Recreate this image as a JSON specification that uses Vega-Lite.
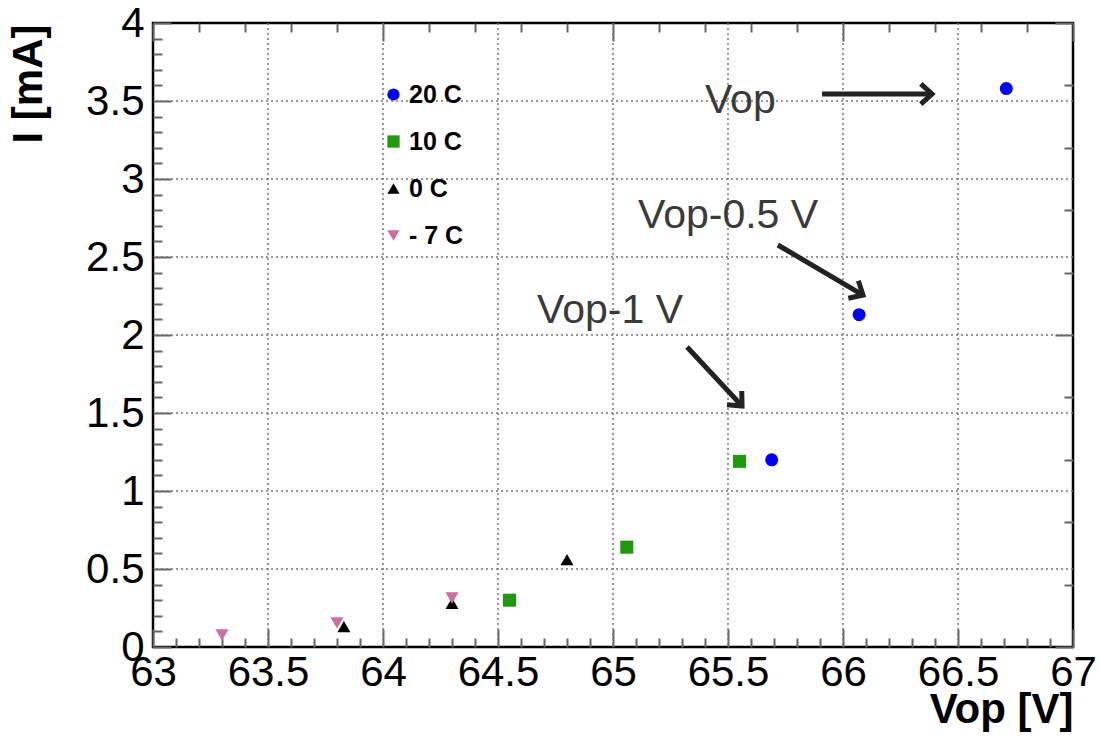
{
  "$schema": "https://vega.github.io/schema/vega-lite/v6.json",
  "width": 920,
  "height": 624,
  "autosize": {"type": "none"},
  "padding": {"left": 153, "top": 23, "right": 26, "bottom": 94},
  "background": "white",
  "config": {
    "view": {"stroke": "black", "strokeWidth": 2.5},
    "font": "Liberation Sans",
    "axis": {"grid": false, "gridColor": "transparent", "gridOpacity": 0},
    "axisX": {"grid": false, "gridColor": "transparent", "gridOpacity": 0},
    "axisY": {"grid": false, "gridColor": "transparent", "gridOpacity": 0},
    "axisQuantitative": {"grid": false, "gridColor": "transparent", "gridOpacity": 0}
  },
  "datasets": {
    "points": [
      {"T": "20 C", "Vop": 65.69, "I": 1.20},
      {"T": "20 C", "Vop": 66.07, "I": 2.13},
      {"T": "20 C", "Vop": 66.71, "I": 3.58},
      {"T": "10 C", "Vop": 64.55, "I": 0.30},
      {"T": "10 C", "Vop": 65.06, "I": 0.64},
      {"T": "10 C", "Vop": 65.55, "I": 1.19},
      {"T": "0 C", "Vop": 63.83, "I": 0.13},
      {"T": "0 C", "Vop": 64.30, "I": 0.28},
      {"T": "0 C", "Vop": 64.80, "I": 0.56},
      {"T": "- 7 C", "Vop": 63.30, "I": 0.077},
      {"T": "- 7 C", "Vop": 63.80, "I": 0.154},
      {"T": "- 7 C", "Vop": 64.30, "I": 0.314}
    ],
    "gridX": [
      {"gx": 63.5}, {"gx": 64}, {"gx": 64.5}, {"gx": 65}, {"gx": 65.5}, {"gx": 66}, {"gx": 66.5}
    ],
    "gridY": [
      {"gy": 0.5}, {"gy": 1}, {"gy": 1.5}, {"gy": 2}, {"gy": 2.5}, {"gy": 3}, {"gy": 3.5}
    ],
    "arrows": [
      {"id": "a1", "x1": 65.909, "y1": 3.545, "x2": 66.387, "y2": 3.545},
      {"id": "a2", "x1": 65.717, "y1": 2.577, "x2": 66.087, "y2": 2.256},
      {"id": "a3", "x1": 65.322, "y1": 1.923, "x2": 65.561, "y2": 1.545}
    ],
    "labels": [
      {"text": "Vop", "x": 65.40, "y": 3.423},
      {"text": "Vop-0.5 V", "x": 65.109, "y": 2.686},
      {"text": "Vop-1 V", "x": 64.670, "y": 2.077}
    ]
  },
  "resolve": {"axis": {"x": "independent", "y": "independent"}},
  "layer": [
    {
      "layer": [
        {
          "data": {"name": "gridX"},
          "mark": {"type": "rule", "color": "#777", "strokeWidth": 1.5, "strokeDash": [2, 3]},
          "encoding": {
            "x": {"field": "gx", "type": "quantitative", "axis": null, "scale": {"domain": [63, 67], "nice": false, "zero": false}}
          }
        },
        {
          "data": {"name": "gridY"},
          "mark": {"type": "rule", "color": "#777", "strokeWidth": 1.5, "strokeDash": [2, 3]},
          "encoding": {
            "y": {"field": "gy", "type": "quantitative", "axis": null, "scale": {"domain": [0, 4], "nice": false, "zero": false}}
          }
        }
      ]
    },
    {
      "layer": [
        {
          "data": {"name": "points"},
          "mark": {"type": "point", "filled": true, "opacity": 1, "size": 170},
          "encoding": {
            "x": {
              "field": "Vop", "type": "quantitative",
              "scale": {"domain": [63, 67], "nice": false, "zero": false},
              "axis": {
                "orient": "bottom",
                "title": "Vop [V]",
                "titleFont": "Liberation Sans", "titleFontSize": 42, "titleFontWeight": "bold", "titleColor": "black",
                "titleAnchor": "end", "titleAlign": "right", "titleX": 920, "titleY": 75, "titleBaseline": "alphabetic",
                "values": [63,63.1,63.2,63.3,63.4,63.5,63.6,63.7,63.8,63.9,64,64.1,64.2,64.3,64.4,64.5,64.6,64.7,64.8,64.9,65,65.1,65.2,65.3,65.4,65.5,65.6,65.7,65.8,65.9,66,66.1,66.2,66.3,66.4,66.5,66.6,66.7,66.8,66.9,67],
                "format": ".1~f",
                "labelExpr": "abs(datum.value*2-round(datum.value*2))<0.01 ? datum.label : ''",
                "labelFont": "Liberation Sans", "labelFontSize": 42, "labelColor": "black",
                "labelPadding": 23, "labelFlush": false, "labelOverlap": false,
                "domain": false, "grid": false,
                "tickColor": "#666", "tickWidth": 2,
                "tickSize": {"condition": {"test": "abs(datum.value*2-round(datum.value*2))<0.01", "value": -18}, "value": -9}
              }
            },
            "y": {
              "field": "I", "type": "quantitative",
              "scale": {"domain": [0, 4], "nice": false, "zero": false},
              "axis": {
                "orient": "left",
                "title": "I [mA]",
                "titleFont": "Liberation Sans", "titleFontSize": 42, "titleFontWeight": "bold", "titleColor": "black",
                "titleAngle": -90, "titleAlign": "right", "titleX": -112, "titleY": 1, "titleBaseline": "alphabetic",
                "values": [0,0.1,0.2,0.3,0.4,0.5,0.6,0.7,0.8,0.9,1,1.1,1.2,1.3,1.4,1.5,1.6,1.7,1.8,1.9,2,2.1,2.2,2.3,2.4,2.5,2.6,2.7,2.8,2.9,3,3.1,3.2,3.3,3.4,3.5,3.6,3.7,3.8,3.9,4],
                "format": ".1~f",
                "labelExpr": "abs(datum.value*2-round(datum.value*2))<0.01 ? datum.label : ''",
                "labelFont": "Liberation Sans", "labelFontSize": 42, "labelColor": "black",
                "labelPadding": 27, "labelFlush": false, "labelOverlap": false,
                "domain": false, "grid": false,
                "tickColor": "#666", "tickWidth": 2,
                "tickSize": {"condition": {"test": "abs(datum.value*2-round(datum.value*2))<0.01", "value": -18}, "value": -9}
              }
            },
            "color": {
              "field": "T", "type": "nominal",
              "scale": {"domain": ["20 C", "10 C", "0 C", "- 7 C"], "range": ["#0000ff", "#1f9a0f", "#000000", "#cc6fa0"]},
              "legend": {
                "title": null, "orient": "none", "legendX": 228, "legendY": 59,
                "labelFont": "Liberation Sans", "labelFontSize": 25, "labelFontWeight": "bold", "labelColor": "black",
                "rowPadding": 21, "labelOffset": 3, "symbolSize": 150, "padding": 0
              }
            },
            "shape": {
              "field": "T", "type": "nominal",
              "scale": {"domain": ["20 C", "10 C", "0 C", "- 7 C"], "range": ["circle", "square", "triangle-up", "triangle-down"]},
              "legend": {
                "title": null, "orient": "none", "legendX": 228, "legendY": 59,
                "labelFont": "Liberation Sans", "labelFontSize": 25, "labelFontWeight": "bold", "labelColor": "black",
                "rowPadding": 21, "labelOffset": 3, "symbolSize": 150, "padding": 0
              }
            }
          }
        }
      ]
    },
    {
      "layer": [
        {
          "data": {"name": "arrows"},
          "mark": {"type": "rule", "color": "#222", "strokeWidth": 5},
          "encoding": {
            "x": {
              "field": "x1", "type": "quantitative",
              "axis": {
                "orient": "top", "title": null, "labels": false, "domain": false, "grid": false,
                "values": [63,63.1,63.2,63.3,63.4,63.5,63.6,63.7,63.8,63.9,64,64.1,64.2,64.3,64.4,64.5,64.6,64.7,64.8,64.9,65,65.1,65.2,65.3,65.4,65.5,65.6,65.7,65.8,65.9,66,66.1,66.2,66.3,66.4,66.5,66.6,66.7,66.8,66.9,67],
                "tickColor": "#666", "tickWidth": 2,
                "tickSize": {"condition": {"test": "abs(datum.value*2-round(datum.value*2))<0.01", "value": -18}, "value": -9}
              }
            },
            "x2": {"field": "x2"},
            "y": {
              "field": "y1", "type": "quantitative",
              "axis": {
                "orient": "right", "title": null, "labels": false, "domain": false, "grid": false,
                "values": [0,0.1,0.2,0.3,0.4,0.5,0.6,0.7,0.8,0.9,1,1.1,1.2,1.3,1.4,1.5,1.6,1.7,1.8,1.9,2,2.1,2.2,2.3,2.4,2.5,2.6,2.7,2.8,2.9,3,3.1,3.2,3.3,3.4,3.5,3.6,3.7,3.8,3.9,4],
                "tickColor": "#666", "tickWidth": 2,
                "tickSize": {"condition": {"test": "abs(datum.value*2-round(datum.value*2))<0.01", "value": -18}, "value": -9}
              }
            },
            "y2": {"field": "y2"}
          }
        },
        {
          "data": {"name": "arrows"},
          "transform": [{"filter": "datum.id === 'a1'"}],
          "mark": {"type": "point", "shape": "M-1,-0.9L0,0L-1,0.9", "filled": false, "stroke": "#222", "strokeWidth": 5, "size": 500, "angle": 0, "opacity": 1},
          "encoding": {
            "x": {"field": "x2", "type": "quantitative"},
            "y": {"field": "y2", "type": "quantitative"}
          }
        },
        {
          "data": {"name": "arrows"},
          "transform": [{"filter": "datum.id === 'a2'"}],
          "mark": {"type": "point", "shape": "M-1,-0.9L0,0L-1,0.9", "filled": false, "stroke": "#222", "strokeWidth": 5, "size": 500, "angle": 30, "opacity": 1},
          "encoding": {
            "x": {"field": "x2", "type": "quantitative"},
            "y": {"field": "y2", "type": "quantitative"}
          }
        },
        {
          "data": {"name": "arrows"},
          "transform": [{"filter": "datum.id === 'a3'"}],
          "mark": {"type": "point", "shape": "M-1,-0.9L0,0L-1,0.9", "filled": false, "stroke": "#222", "strokeWidth": 5, "size": 500, "angle": 47, "opacity": 1},
          "encoding": {
            "x": {"field": "x2", "type": "quantitative"},
            "y": {"field": "y2", "type": "quantitative"}
          }
        },
        {
          "data": {"name": "labels"},
          "mark": {"type": "text", "align": "left", "baseline": "alphabetic", "font": "Liberation Sans", "fontSize": 41, "color": "#3a3a3a"},
          "encoding": {
            "x": {"field": "x", "type": "quantitative"},
            "y": {"field": "y", "type": "quantitative"},
            "text": {"field": "text"}
          }
        }
      ]
    }
  ]
}
